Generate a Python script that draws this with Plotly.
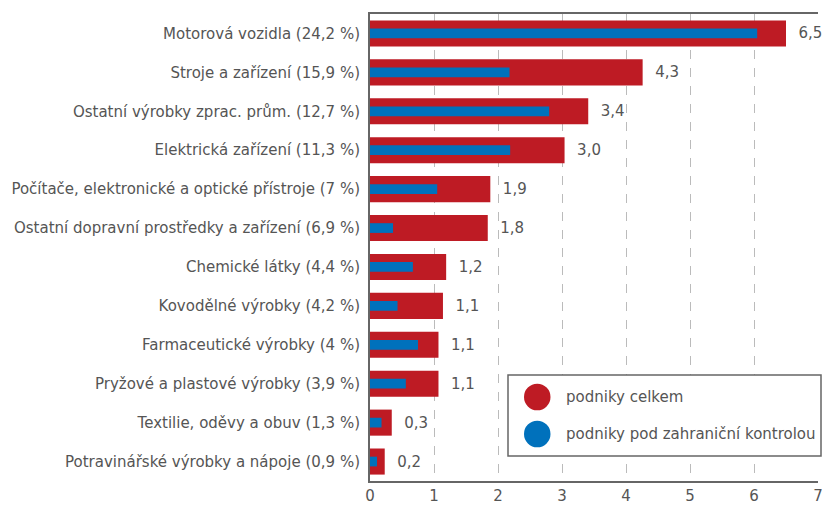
import plotly.graph_objects as go

# obory zpracovatelského průmyslu (podíl v závorce)
categories = [
    'Motorová vozidla (24,2 %)',
    'Stroje a zařízení (15,9 %)',
    'Ostatní výrobky zprac. prům. (12,7 %)',
    'Elektrická zařízení (11,3 %)',
    'Počítače, elektronické a optické přístroje (7 %)',
    'Ostatní dopravní prostředky a zařízení (6,9 %)',
    'Chemické látky (4,4 %)',
    'Kovodělné výrobky (4,2 %)',
    'Farmaceutické výrobky (4 %)',
    'Pryžové a plastové výrobky (3,9 %)',
    'Textilie, oděvy a obuv (1,3 %)',
    'Potravinářské výrobky a nápoje (0,9 %)',
]
celkem = [6.5, 4.26, 3.41, 3.04, 1.88, 1.84, 1.19, 1.14, 1.07, 1.07, 0.34, 0.23]
zahranicni = [6.05, 2.18, 2.8, 2.19, 1.05, 0.36, 0.67, 0.43, 0.75, 0.56, 0.18, 0.11]
x_ticks = [0, 1, 2, 3, 4, 5, 6, 7]

RED = '#BE1B24'
BLUE = '#0071BC'
GREY_TEXT = '#555555'
FONT = 'DejaVu Sans'

fig = go.Figure()

fig.add_trace(go.Bar(
    y=categories, x=celkem, orientation='h', name='podniky celkem',
    marker_color=RED, marker_line_width=0, width=0.67,
    texttemplate='\u00a0\u00a0%{x:.1f}', textposition='outside',
    textfont=dict(color=GREY_TEXT, size=15, family=FONT),
    cliponaxis=False, showlegend=False,
))
fig.add_trace(go.Bar(
    y=categories, x=zahranicni, orientation='h',
    name='podniky pod zahraniční kontrolou',
    marker_color=BLUE, marker_line_width=0, width=0.25,
    showlegend=False,
))

# vlastní legenda (velká kolečka); souřadnice v pixelech stránky
px_x = lambda p: (p - 370) / 448
px_y = lambda p: (481 - p) / 467
fig.add_shape(type='rect', xref='paper', yref='paper',
              x0=px_x(508), x1=px_x(821), y0=px_y(456), y1=px_y(375),
              line=dict(color='#666666', width=1.5), fillcolor='white', layer='above')
for cy, color, label in [(397, RED, 'podniky celkem'),
                         (434, BLUE, 'podniky pod zahraniční kontrolou')]:
    fig.add_shape(type='circle', xref='paper', yref='paper',
                  x0=px_x(524), x1=px_x(550.5), y0=px_y(cy + 13.3), y1=px_y(cy - 13.3),
                  line_width=0, fillcolor=color, layer='above')
    fig.add_annotation(xref='paper', yref='paper', x=px_x(564), y=px_y(cy),
                       text=label, showarrow=False, xanchor='left', yanchor='middle',
                       font=dict(color=GREY_TEXT, size=15, family=FONT))

fig.update_layout(
    width=822, height=506,
    barmode='overlay',
    separators=', ',
    template='plotly_white',
    plot_bgcolor='white', paper_bgcolor='white',
    margin=dict(l=370, r=4, t=14, b=25),
    font=dict(family=FONT, color=GREY_TEXT),
)
fig.update_xaxes(
    range=[0, 7], tickvals=x_ticks, showgrid=True, griddash='dash',
    gridcolor='#BBBBBB', gridwidth=1, zeroline=False,
    showline=True, linecolor='#666666', linewidth=2, mirror=True,
    tickfont=dict(size=15, color=GREY_TEXT), ticks='', automargin=False,
    ticklabeloverflow='allow',
)
fig.update_yaxes(
    range=[11.5, -0.5], showgrid=False, zeroline=False,
    showline=True, linecolor='#666666', linewidth=2,
    tickfont=dict(size=15, color=GREY_TEXT), ticks='', ticklabelstandoff=5,
    automargin=False,
)

# bez okraje stránky, aby graf přesně vyplnil okno
fig.write_html('out.html', config={'displayModeBar': False},
               post_script="document.body.style.margin='0';document.body.style.overflow='hidden';")
